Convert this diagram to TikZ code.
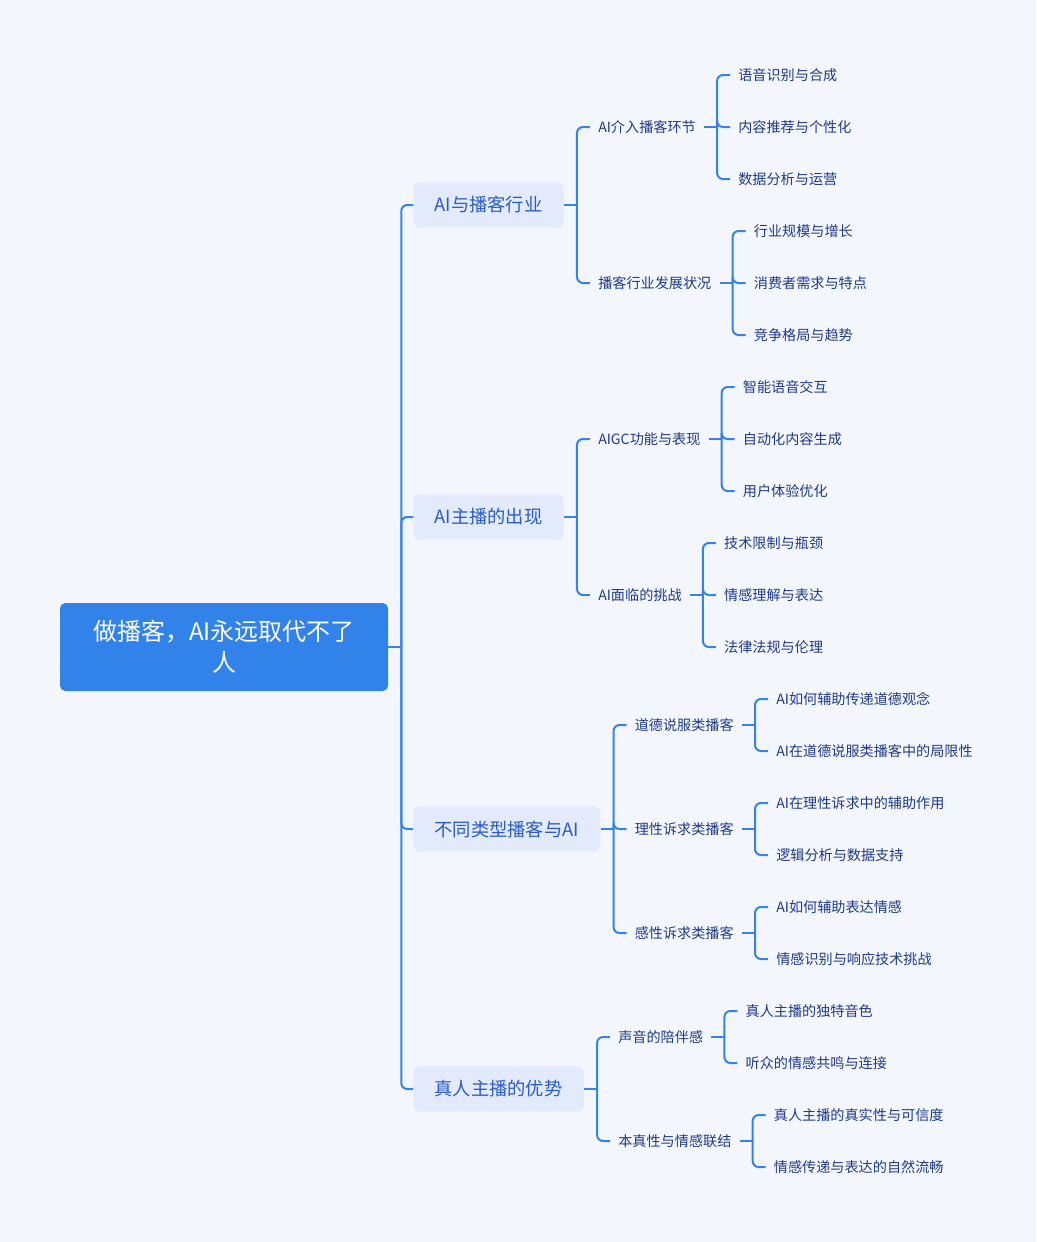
\documentclass[tikz,border=0pt]{standalone}
\usepackage{fontspec}
\setmainfont{Noto Sans CJK SC}
\usetikzlibrary{calc}
\definecolor{bgcol}{HTML}{F4F6FD}
\definecolor{rootcol}{HTML}{3182E9}
\definecolor{boxcol}{HTML}{E2EAFC}
\definecolor{linecol}{HTML}{3483EA}
\definecolor{topiccol}{HTML}{2A5BC8}
\definecolor{leafcol}{HTML}{1E3A8A}
\tikzset{
  root/.style={fill=rootcol, text=white, rounded corners=4pt, minimum width=246pt,
    minimum height=66pt, align=center, font=\fontsize{18}{23}\selectfont},
  topic/.style={fill=boxcol, text=topiccol, rounded corners=5pt, anchor=west,
    minimum height=34pt, inner xsep=16pt, font=\fontsize{13.7}{16}\selectfont},
  leaf/.style={text=leafcol, anchor=west, inner xsep=6pt, inner ysep=2pt,
    font=\fontsize{10.6}{13}\selectfont},
  link/.style={draw=linecol, line width=1.5pt, rounded corners=4.5pt},
}
\begin{document}
\begin{tikzpicture}[x=0.75pt, y=-0.75pt]
  \fill[bgcol] (0,0) rectangle (1036,1242);
  \useasboundingbox (0,0) rectangle (1036,1242);

  % root and main topics
  \node[root] (root) at (224,647) {做播客，AI永远取代不了\\人};
  \coordinate (sp) at ($(root.east)+(13,0)$);
  \node[topic] (t1) at (413,205) {AI与播客行业};
  \node[topic] (t2) at (413,517) {AI主播的出现};
  \node[topic] (t3) at (413,829) {不同类型播客与AI};
  \node[topic] (t4) at (413,1089) {真人主播的优势};
  \draw[link] (root.east) -- (sp);
  \foreach \t in {t1,t2,t3,t4}
    \draw[link] (sp) |- (\t.west);

  % AI与播客行业
  \coordinate (s1) at ($(t1.east)+(13,0)$);
  \path (s1) ++(13,-78) node[leaf] (a) {AI介入播客环节};
  \path (s1) ++(13,78) node[leaf] (b) {播客行业发展状况};
  \coordinate (sa) at ($(a.east)+(13,0)$);
  \path (sa) ++(13,-52) node[leaf] (a1) {语音识别与合成};
  \path (sa) ++(13,0) node[leaf] (a2) {内容推荐与个性化};
  \path (sa) ++(13,52) node[leaf] (a3) {数据分析与运营};
  \coordinate (sb) at ($(b.east)+(13,0)$);
  \path (sb) ++(13,-52) node[leaf] (b1) {行业规模与增长};
  \path (sb) ++(13,0) node[leaf] (b2) {消费者需求与特点};
  \path (sb) ++(13,52) node[leaf] (b3) {竞争格局与趋势};

  % AI主播的出现
  \coordinate (s2) at ($(t2.east)+(13,0)$);
  \path (s2) ++(13,-78) node[leaf] (c) {AIGC功能与表现};
  \path (s2) ++(13,78) node[leaf] (d) {AI面临的挑战};
  \coordinate (sc) at ($(c.east)+(13,0)$);
  \path (sc) ++(13,-52) node[leaf] (c1) {智能语音交互};
  \path (sc) ++(13,0) node[leaf] (c2) {自动化内容生成};
  \path (sc) ++(13,52) node[leaf] (c3) {用户体验优化};
  \coordinate (sd) at ($(d.east)+(13,0)$);
  \path (sd) ++(13,-52) node[leaf] (d1) {技术限制与瓶颈};
  \path (sd) ++(13,0) node[leaf] (d2) {情感理解与表达};
  \path (sd) ++(13,52) node[leaf] (d3) {法律法规与伦理};

  % 不同类型播客与AI
  \coordinate (s3) at ($(t3.east)+(13,0)$);
  \path (s3) ++(13,-104) node[leaf] (e) {道德说服类播客};
  \path (s3) ++(13,0) node[leaf] (f) {理性诉求类播客};
  \path (s3) ++(13,104) node[leaf] (g) {感性诉求类播客};
  \coordinate (se) at ($(e.east)+(13,0)$);
  \path (se) ++(13,-26) node[leaf] (e1) {AI如何辅助传递道德观念};
  \path (se) ++(13,26) node[leaf] (e2) {AI在道德说服类播客中的局限性};
  \coordinate (sf) at ($(f.east)+(13,0)$);
  \path (sf) ++(13,-26) node[leaf] (f1) {AI在理性诉求中的辅助作用};
  \path (sf) ++(13,26) node[leaf] (f2) {逻辑分析与数据支持};
  \coordinate (sg) at ($(g.east)+(13,0)$);
  \path (sg) ++(13,-26) node[leaf] (g1) {AI如何辅助表达情感};
  \path (sg) ++(13,26) node[leaf] (g2) {情感识别与响应技术挑战};

  % 真人主播的优势
  \coordinate (s4) at ($(t4.east)+(13,0)$);
  \path (s4) ++(13,-52) node[leaf] (h) {声音的陪伴感};
  \path (s4) ++(13,52) node[leaf] (i) {本真性与情感联结};
  \coordinate (sh) at ($(h.east)+(13,0)$);
  \path (sh) ++(13,-26) node[leaf] (h1) {真人主播的独特音色};
  \path (sh) ++(13,26) node[leaf] (h2) {听众的情感共鸣与连接};
  \coordinate (si) at ($(i.east)+(13,0)$);
  \path (si) ++(13,-26) node[leaf] (i1) {真人主播的真实性与可信度};
  \path (si) ++(13,26) node[leaf] (i2) {情感传递与表达的自然流畅};

  % connectors
  \foreach \p/\kids in {t1/{a,b}, t2/{c,d}, t3/{e,f,g}, t4/{h,i}}{
    \coordinate (here) at ($(\p.east)+(13,0)$);
    \draw[link] (\p.east) -- (here);
    \foreach \k in \kids
      \draw[link] (here) |- (\k.west);
  }
  \foreach \p in {a,b,c,d}{
    \coordinate (here) at ($(\p.east)+(13,0)$);
    \draw[link] (\p.east) -- (here);
    \foreach \n in {1,2,3}
      \draw[link] (here) |- (\p\n.west);
  }
  \foreach \p in {e,f,g,h,i}{
    \coordinate (here) at ($(\p.east)+(13,0)$);
    \draw[link] (\p.east) -- (here);
    \foreach \n in {1,2}
      \draw[link] (here) |- (\p\n.west);
  }
\end{tikzpicture}
\end{document}
